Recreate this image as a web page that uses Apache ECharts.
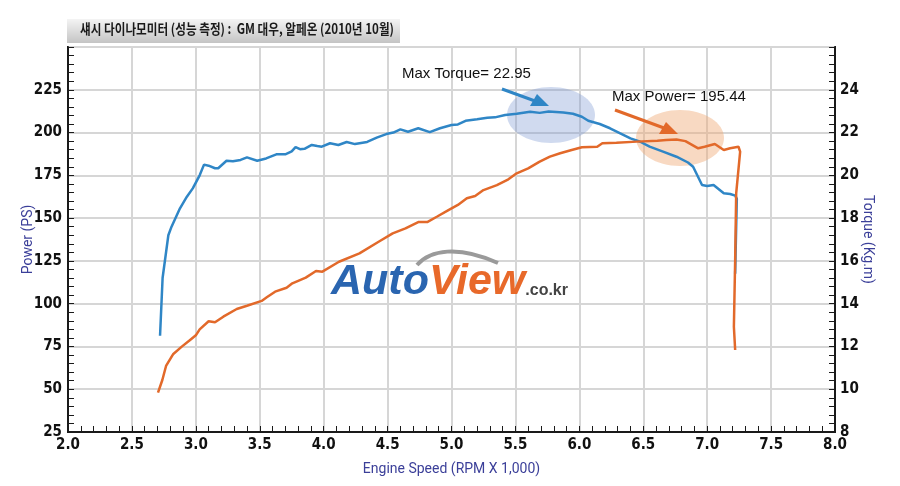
<!DOCTYPE html>
<html>
<head>
    <meta charset="utf-8">
    <title>섀시 다이나모미터 - 알페온</title>
    <script src="https://cdn.jsdelivr.net/npm/echarts@6/dist/echarts.min.js"></script>
    <style>
        html, body { margin: 0; padding: 0; background: #ffffff; }
        #chart { width: 900px; height: 486px; }
    </style>
</head>
<body>
<div id="chart"></div>
<script>
    // 토크 곡선 (Kg.m, 오른쪽 축)
    var torqueRpm = [2.72, 2.74, 2.785, 2.81, 2.876, 2.93, 2.976, 3.03, 3.064, 3.10, 3.15, 3.175, 3.24, 3.29, 3.35, 3.40,
        3.48, 3.55, 3.63, 3.70, 3.75, 3.78, 3.815, 3.85, 3.907, 3.95, 3.985, 4.05, 4.115, 4.18, 4.245, 4.34, 4.415,
        4.49, 4.545, 4.60, 4.66, 4.74, 4.83, 4.91, 5.00, 5.05, 5.11, 5.20, 5.28, 5.34, 5.42, 5.51, 5.615, 5.69, 5.76,
        5.875, 5.95, 6.02, 6.07, 6.16, 6.24, 6.32, 6.40, 6.476, 6.55, 6.66, 6.76, 6.85, 6.89, 6.96, 7.00, 7.05, 7.13,
        7.18, 7.22, 7.232, 7.227, 7.219];
    var torque = [12.5, 15.2, 17.2, 17.6, 18.46, 19.0, 19.39, 20.0, 20.5, 20.45, 20.33, 20.33, 20.68, 20.66, 20.72, 20.84,
        20.68, 20.79, 20.98, 20.98, 21.12, 21.32, 21.22, 21.24, 21.42, 21.37, 21.34, 21.50, 21.42, 21.56, 21.46, 21.56, 21.76,
        21.93, 22.0, 22.15, 22.04, 22.2, 22.02, 22.2, 22.35, 22.38, 22.55, 22.62, 22.69, 22.71, 22.82, 22.88, 22.97, 22.92, 22.98,
        22.94, 22.88, 22.74, 22.55, 22.4, 22.2, 21.96, 21.73, 21.57, 21.34, 21.1, 20.87, 20.6, 20.4, 19.55, 19.5, 19.55, 19.16,
        19.13, 19.05, 18.9, 17.6, 15.4];

    // 출력 곡선 (PS, 왼쪽 축)
    var powerRpm = [2.704, 2.738, 2.767, 2.824, 2.89, 2.955, 3.00, 3.03, 3.10, 3.15, 3.215, 3.32, 3.40, 3.515, 3.555, 3.62,
        3.71, 3.755, 3.86, 3.94, 3.99, 4.12, 4.28, 4.43, 4.54, 4.64, 4.74, 4.81, 4.885, 4.976, 5.05, 5.12, 5.185, 5.25,
        5.355, 5.445, 5.51, 5.60, 5.69, 5.77, 5.85, 5.94, 6.02, 6.14, 6.18, 6.29, 6.45, 6.61, 6.68, 6.76, 6.83, 6.93,
        6.98, 7.06, 7.13, 7.18, 7.245, 7.258, 7.227, 7.219, 7.209, 7.219];
    var power = [48, 55.4, 63.6, 70.6, 74.9, 78.8, 81.5, 85, 89.7, 89.1, 92.4, 96.9, 98.8, 101.6, 103.7, 107,
        109.3, 111.9, 115.2, 119.1, 118.7, 124.5, 129.4, 136.2, 141.1, 144, 147.7, 147.7, 150.8, 154.7, 157.7, 161.6, 162.9, 166.4,
        169.3, 172.7, 176.2, 179.1, 183, 185.9, 187.9, 189.8, 191.4, 191.7, 193.7, 194.1, 194.7, 195.2, 195.6, 195.9, 195.0, 190.8,
        191.7, 193.3, 189.8, 190.8, 191.7, 188.8, 164.5, 125.5, 86.5, 72.9];

    var titleText = '섀시 다이나모미터 (성능 측정) :  GM 대우, 알페온 (2010년 10월)';

    function zip(xs, ys) {
        var out = [];
        for (var i = 0; i < xs.length; i++) {
            out.push([xs[i], ys[i]]);
        }
        return out;
    }

    var labelFont = {
        fontFamily: '"Liberation Sans Narrow", "DejaVu Sans Condensed", "Liberation Sans", sans-serif',
        fontWeight: 'bold',
        fontSize: 15,
        color: '#111'
    };
    var nameFont = { color: '#3b3f99', fontSize: 14, fontFamily: 'Roboto, "Liberation Sans", sans-serif' };

    var chart = echarts.init(document.getElementById('chart'));
    var option = {
        backgroundColor: '#ffffff',
        animation: false,
        grid: {
            left: 68, right: 65, top: 47, bottom: 54,
            show: true, borderColor: '#1a1a1a', borderWidth: 2
        },
        xAxis: {
            type: 'value', min: 2, max: 8, interval: 0.5,
            name: 'Engine Speed (RPM X 1,000)',
            nameLocation: 'middle', nameGap: 30, nameMoveOverlap: false,
            nameTextStyle: nameFont,
            axisLine: { lineStyle: { color: '#1a1a1a', width: 2 } },
            axisTick: { inside: true, length: 6, lineStyle: { color: '#1a1a1a' } },
            minorTick: { show: true, splitNumber: 5, length: 6, lineStyle: { color: '#1a1a1a' } },
            axisLabel: Object.assign({ margin: 6, formatter: function (v) { return v.toFixed(1); } }, labelFont),
            splitLine: { show: true, lineStyle: { color: '#d6d6d6', width: 2 } }
        },
        yAxis: [{
            type: 'value', min: 25, max: 250, interval: 25,
            name: 'Power (PS)',
            nameLocation: 'middle', nameGap: 33, nameRotate: 90, nameMoveOverlap: false,
            nameTextStyle: nameFont,
            axisLine: { show: true, lineStyle: { color: '#1a1a1a', width: 2 } },
            axisTick: { show: true, inside: true, length: 6, lineStyle: { color: '#1a1a1a' } },
            minorTick: { show: true, splitNumber: 5, length: 6, lineStyle: { color: '#1a1a1a' } },
            axisLabel: Object.assign({ margin: 6, formatter: function (v) { return v >= 250 ? '' : v; } }, labelFont),
            splitLine: { show: true, lineStyle: { color: '#d6d6d6', width: 2 } }
        }, {
            type: 'value', min: 8, max: 26, interval: 2,
            position: 'right',
            name: 'Torque (Kg.m)',
            nameLocation: 'middle', nameGap: 25, nameRotate: -90, nameMoveOverlap: false,
            nameTextStyle: nameFont,
            axisLine: { show: true, lineStyle: { color: '#1a1a1a', width: 2 } },
            axisTick: { show: true, inside: true, length: 6, lineStyle: { color: '#1a1a1a' } },
            minorTick: { show: true, splitNumber: 5, length: 6, lineStyle: { color: '#1a1a1a' } },
            axisLabel: Object.assign({ margin: 5, formatter: function (v) { return v >= 26 ? '' : v; } }, labelFont),
            splitLine: { show: false }
        }],
        graphic: [
            // 제목 상자
            {
                type: 'rect', left: 67, top: 19, z: 10,
                shape: { width: 333, height: 24 },
                style: {
                    fill: new echarts.graphic.LinearGradient(0, 0, 0, 1, [
                        { offset: 0, color: '#f4f4f4' }, { offset: 1, color: '#c4c4c4' }
                    ])
                }
            },
            {
                type: 'text', x: 80, y: 22, scaleX: 0.83, z: 11,
                style: {
                    text: titleText, fill: '#1a1a1a',
                    font: 'bold 14px "Noto Sans CJK KR", sans-serif'
                }
            },
            // 최대 토크 표시
            {
                type: 'ellipse', z: 1,
                shape: { cx: 551, cy: 115, rx: 44, ry: 28 },
                style: { fill: 'rgba(120,150,210,0.35)' }
            },
            {
                type: 'text', left: 402, top: 66, z: 12,
                style: { text: 'Max Torque= 22.95', fill: '#111', font: '15px "Liberation Sans", Arial, sans-serif' }
            },
            {
                type: 'line', z: 12,
                shape: { x1: 502, y1: 89, x2: 535, y2: 101 },
                style: { stroke: '#2f86c6', lineWidth: 3 }
            },
            {
                type: 'polygon', z: 12,
                shape: { points: [[549, 106], [530, 106], [537, 94]] },
                style: { fill: '#2f86c6' }
            },
            // 최대 출력 표시
            {
                type: 'ellipse', z: 1,
                shape: { cx: 680, cy: 138, rx: 44, ry: 28 },
                style: { fill: 'rgba(240,170,120,0.45)' }
            },
            {
                type: 'text', left: 612, top: 89, z: 12,
                style: { text: 'Max Power= 195.44', fill: '#111', font: '15px "Liberation Sans", Arial, sans-serif' }
            },
            {
                type: 'line', z: 12,
                shape: { x1: 615, y1: 110, x2: 664, y2: 128 },
                style: { stroke: '#e2692a', lineWidth: 3 }
            },
            {
                type: 'polygon', z: 12,
                shape: { points: [[678, 134], [659, 134], [666, 122]] },
                style: { fill: '#e2692a' }
            },
            // 워터마크 로고
            {
                type: 'bezierCurve', z: 3,
                shape: { x1: 417, y1: 265, cpx1: 430, cpy1: 250, cpx2: 458, cpy2: 245, x2: 498, y2: 263 },
                style: { stroke: '#9a9a9a', lineWidth: 4, fill: 'none' }
            },
            {
                type: 'text', left: 331, top: 261, z: 3,
                style: {
                    text: '{a|Auto}{b|View}{c|.co.kr}',
                    rich: {
                        a: { font: 'italic bold 43px "Liberation Sans", Arial, sans-serif', fill: '#2a65b0' },
                        b: { font: 'italic bold 43px "Liberation Sans", Arial, sans-serif', fill: '#e8692a' },
                        c: { font: 'bold 16px "Liberation Sans", Arial, sans-serif', fill: '#444', padding: [16, 0, 0, 0] }
                    }
                }
            }
        ],
        series: [{
            name: 'Torque',
            type: 'line',
            yAxisIndex: 1,
            showSymbol: false,
            z: 5,
            lineStyle: { color: '#2f86c6', width: 2.5 },
            data: zip(torqueRpm, torque)
        }, {
            name: 'Power',
            type: 'line',
            yAxisIndex: 0,
            showSymbol: false,
            z: 5,
            lineStyle: { color: '#e2692a', width: 2.5 },
            data: zip(powerRpm, power)
        }]
    };
    chart.setOption(option);
</script>
</body>
</html>
